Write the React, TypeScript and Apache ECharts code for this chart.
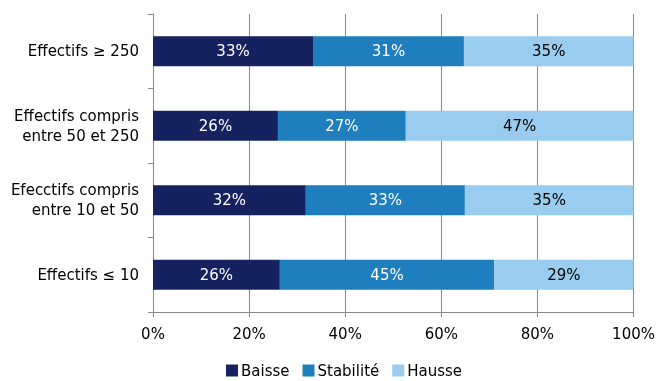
import React, { useEffect, useRef } from "react";
import * as echarts from "echarts";

const categories = [
  "Effectifs ≤ 10",
  "Efecctifs compris\nentre 10 et 50",
  "Effectifs compris\nentre 50 et 250",
  "Effectifs ≥ 250",
];
const baisse = [26.4, 31.8, 26.0, 33.3];
const stabilite = [44.6, 33.1, 26.6, 31.4];
const hausse = [29.0, 35.1, 47.4, 35.3];
const xTicks = [0, 20, 40, 60, 80, 100];

const FONT = "DejaVu Sans";

export default function App() {
  const ref = useRef<HTMLDivElement>(null);
  useEffect(() => {
    if (!ref.current) return;
    const chart = echarts.init(ref.current, null, { renderer: "svg" });
    const mkSeries = (name: string, data: number[], color: string, labelColor: string) => ({
      name,
      type: "bar",
      stack: "total",
      data,
      barWidth: 30,
      itemStyle: { color },
      label: {
        show: true,
        position: "inside",
        color: labelColor,
        fontFamily: FONT,
        fontSize: 15,
        formatter: (p: any) => Math.round(p.value) + "%",
      },
    });
    chart.setOption({
      animation: false,
      textStyle: { fontFamily: FONT },
      grid: { left: 153, right: 24, top: 14, bottom: 69, containLabel: false },
      legend: {
        top: 363,
        left: 226,
        padding: 0,
        itemWidth: 12,
        itemHeight: 12,
        itemGap: 13,
        icon: "rect",
        textStyle: { fontFamily: FONT, fontSize: 15, color: "#000", padding: [0, 0, 0, -2] },
        data: ["Baisse", "Stabilité", "Hausse"],
      },
      xAxis: {
        type: "value",
        min: 0,
        max: 100,
        interval: 20,
        axisLine: { show: true, lineStyle: { color: "#888" } },
        axisTick: { show: true, length: 5, lineStyle: { color: "#888" } },
        splitLine: { show: true, lineStyle: { color: "#888", width: 1 } },
        axisLabel: {
          color: "#000",
          fontFamily: FONT,
          fontSize: 15,
          margin: 14,
          formatter: (v: number) => (xTicks.includes(v) ? v + "%" : ""),
        },
      },
      yAxis: {
        type: "category",
        data: categories,
        axisLine: { show: true, lineStyle: { color: "#888" } },
        axisTick: { show: true, length: 5, lineStyle: { color: "#888" } },
        axisLabel: {
          color: "#000",
          fontFamily: FONT,
          fontSize: 15,
          lineHeight: 20,
          margin: 14,
          align: "right",
        },
      },
      series: [
        mkSeries("Baisse", baisse, "#15225F", "#fff"),
        mkSeries("Stabilité", stabilite, "#1F7EBE", "#fff"),
        mkSeries("Hausse", hausse, "#99CCEE", "#000"),
      ],
    });
    return () => chart.dispose();
  }, []);
  return (
    <div
      ref={ref}
      style={{ position: "fixed", left: 0, top: 0, width: 658, height: 381 }}
    />
  );
}
